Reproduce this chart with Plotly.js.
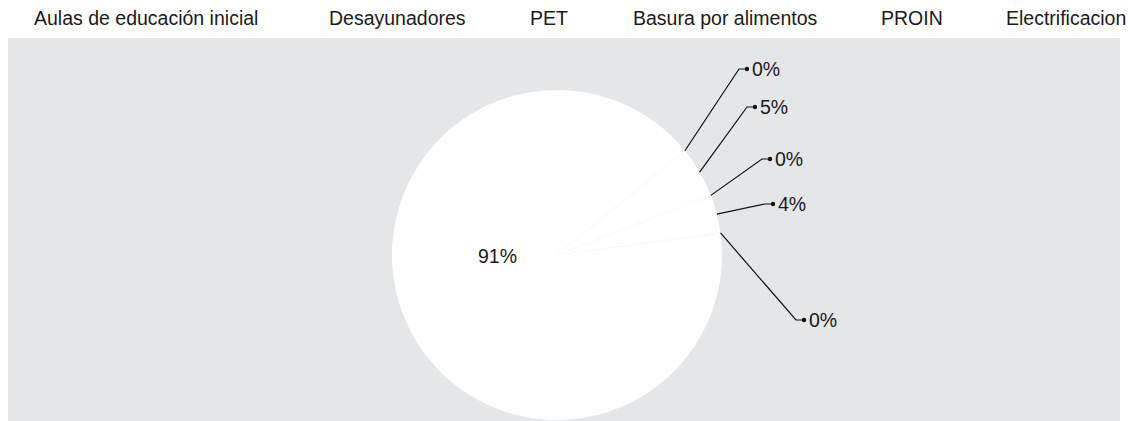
<!DOCTYPE html>
<html>
<head>
<meta charset="utf-8">
<script src="https://cdn.plot.ly/plotly-3.0.1.min.js"></script>
<style>html,body{margin:0;padding:0;background:#fff}</style>
</head>
<body>
<div id="chart" style="width:1128px;height:421px"></div>
<script>
const programas = ['Aulas de educación inicial', 'Desayunadores', 'PET', 'Basura por alimentos', 'PROIN', 'Electrificacion'];
const participacion = [91.1, 0.2, 4.8, 0.2, 3.6, 0.1];

const FONT = "'Liberation Sans', Arial, sans-serif";
const FS = 19.5;
const INK = '#1a1a1a';
const W = 1128, H = 421;
const M = {l: 8, r: 8, t: 38, b: 0};
// pie centre / radius in px, start angle (deg clockwise from 12 o'clock)
const CX = 557, CY = 255, R = 165;
const ROT = 82.5;
// where each outside label's dot sits (px), keyed by slice index
const labelDots = {1: [747, 69], 2: [755, 107], 3: [770, 159], 4: [773, 204], 5: [804, 320]};
// inside label for the big slice (px)
const insideLabel = [497, 256];
// legend row: left edge of each label (px) and its vertical centre
const legendX = [32, 327, 528, 631, 879, 1004];
const legendY = 18;

const pw = W - M.l - M.r, ph = H - M.t - M.b;
const toPx = x => (x - M.l) / pw;
const toPy = y => 1 - (y - M.t) / ph;

const total = participacion.reduce((a, b) => a + b, 0);
const pct = v => Math.round(v / total * 100) + '%';

const shapes = [{
    type: 'rect', xref: 'paper', yref: 'paper', x0: 0, x1: 1, y0: 0, y1: 1,
    fillcolor: '#e5e6e8', line: {width: 0}, layer: 'below'
}];
const annotations = [];

let ang = ROT;
participacion.forEach((v, i) => {
    const span = v / total * 360;
    const mid = ang + span / 2;
    ang += span;
    if (!labelDots[i]) {
        annotations.push({
            xref: 'paper', yref: 'paper', x: toPx(insideLabel[0]), y: toPy(insideLabel[1]),
            xanchor: 'center', yanchor: 'middle', showarrow: false,
            text: pct(v), font: {family: FONT, size: FS, color: INK}
        });
        return;
    }
    const a = mid * Math.PI / 180;
    const ex = CX + R * Math.sin(a), ey = CY - R * Math.cos(a);
    const [dx, dy] = labelDots[i];
    const pts = [[ex, ey], [dx - 8, dy], [dx, dy]];
    shapes.push({
        type: 'path', xref: 'paper', yref: 'paper',
        path: pts.map((p, k) => (k ? 'L' : 'M') + toPx(p[0]) + ',' + toPy(p[1])).join(' '),
        line: {color: '#111', width: 1.2}
    });
    shapes.push({
        type: 'circle', xref: 'paper', yref: 'paper', xsizemode: 'pixel', ysizemode: 'pixel',
        xanchor: toPx(dx), yanchor: toPy(dy), x0: -2.2, x1: 2.2, y0: -2.2, y1: 2.2,
        fillcolor: '#111', line: {width: 0}
    });
    annotations.push({
        xref: 'paper', yref: 'paper', x: toPx(dx + 3), y: toPy(dy),
        xanchor: 'left', yanchor: 'middle', showarrow: false,
        text: pct(v), font: {family: FONT, size: FS, color: INK}
    });
});

// legend row (the slices are all white, so only the names show)
programas.forEach((name, i) => {
    annotations.push({
        xref: 'paper', yref: 'paper', x: toPx(legendX[i]), y: toPy(legendY),
        xanchor: 'left', yanchor: 'middle', showarrow: false,
        text: name, font: {family: FONT, size: FS, color: INK}
    });
});

const trace = {
    type: 'pie',
    labels: programas,
    values: participacion,
    sort: false,
    direction: 'clockwise',
    rotation: ROT,
    marker: {colors: programas.map(() => '#ffffff'), line: {width: 0}},
    textposition: 'none',
    hoverinfo: 'label+percent',
    domain: {x: [toPx(CX - R), toPx(CX + R)], y: [toPy(CY + R), toPy(CY - R)]}
};

const layout = {
    width: W, height: H,
    margin: {l: M.l, r: M.r, t: M.t, b: M.b, autoexpand: false},
    paper_bgcolor: '#ffffff',
    font: {family: FONT, size: FS, color: INK},
    showlegend: false,
    shapes: shapes,
    annotations: annotations
};

Plotly.newPlot('chart', [trace], layout, {displayModeBar: false});
</script>
</body>
</html>
